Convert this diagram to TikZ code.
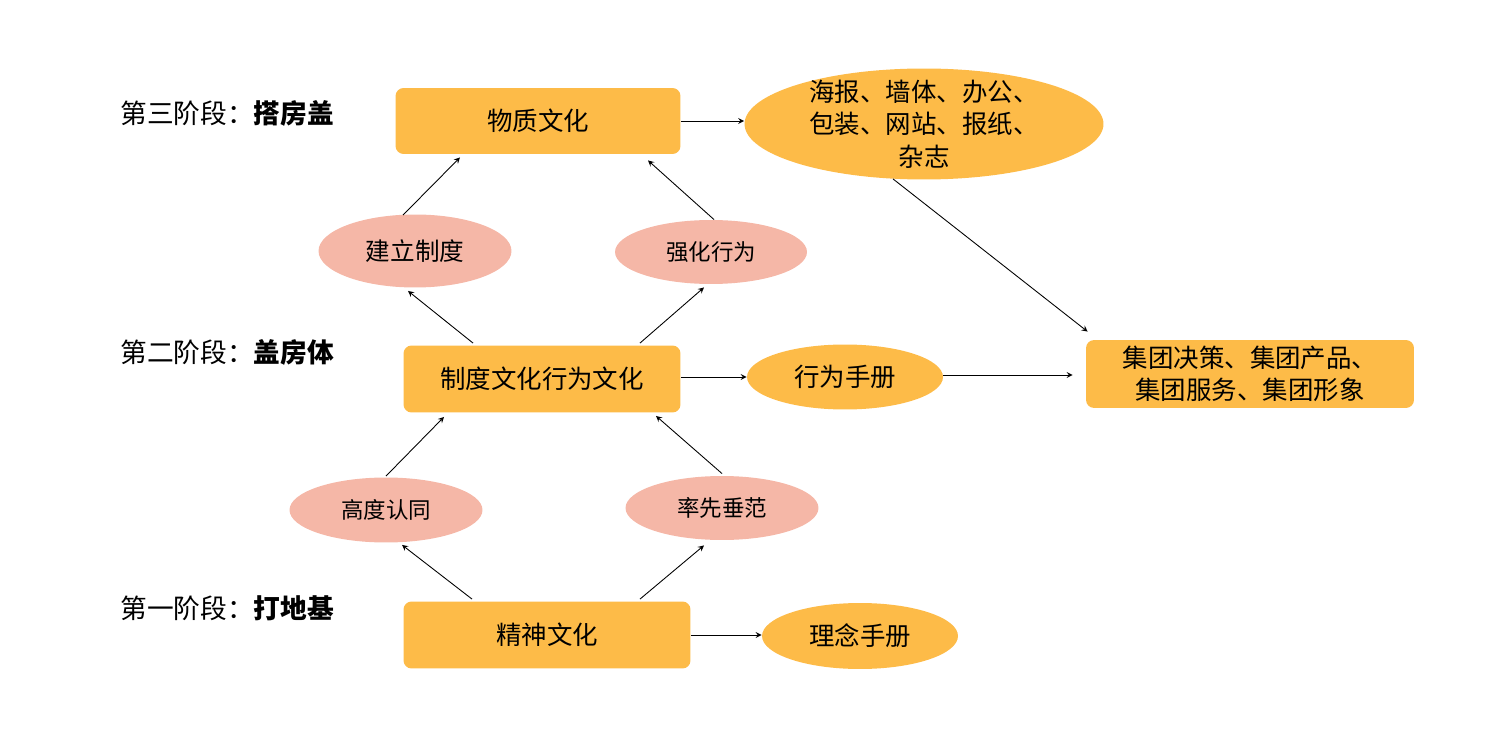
\documentclass[tikz,border=0pt]{standalone}
\usepackage{fontspec}
\setmainfont{Noto Sans CJK SC}
\usetikzlibrary{shapes.geometric}
\definecolor{boxorange}{RGB}{253,187,72}
\definecolor{ovalpink}{RGB}{245,183,167}
\begin{document}
\begin{tikzpicture}[x=0.02cm, y=-0.02cm, >=stealth, line width=0.5pt,
  culture/.style={draw=none, fill=boxorange, rounded corners=0.16cm, minimum height=1.34cm, font=\fontsize{14.5pt}{18.5pt}\selectfont, align=center},
  medium/.style={ellipse, fill=boxorange, inner sep=0pt, minimum height=1.3cm, minimum width=3.92cm, font=\fontsize{14.5pt}{18.5pt}\selectfont, align=center},
  action/.style={ellipse, fill=ovalpink, inner sep=0pt, minimum height=1.3cm, minimum width=3.86cm, font=\fontsize{12.8pt}{16pt}\selectfont},
  stage/.style={anchor=west, inner sep=0pt, font=\fontsize{15.2pt}{18pt}\selectfont}]
\useasboundingbox (0,0) rectangle (1500,729);
%
\node[stage] (stage3) at (120,113) {第三阶段：\textbf{搭房盖}};
\node[stage] (stage2) at (120,352) {第二阶段：\textbf{盖房体}};
\node[stage] (stage1) at (120,608) {第一阶段：\textbf{打地基}};
%
\node[culture, minimum width=5.7cm, minimum height=1.32cm] (wuzhi) at (538,121) {物质文化};
\node[culture, minimum width=5.54cm] (zhidu) at (542,379) {制度文化行为文化};
\node[culture, minimum width=5.74cm] (jingshen) at (547,635) {精神文化};
\node[culture, minimum width=6.56cm] (jituan) at (1250,374) {集团决策、集团产品、\\集团服务、集团形象};
%
\node[medium, inner ysep=-0.15cm, minimum width=7.18cm, minimum height=2.22cm] (haibao) at (924,124) {海报、墙体、办公、\\包装、网站、报纸、\\杂志};
\node[medium] (xingwei) at (845,377) {行为手册};
\node[medium, minimum height=1.32cm] (linian) at (860,636) {理念手册};
%
\node[action, minimum height=1.46cm, font=\fontsize{14pt}{16pt}\selectfont] (jianli) at (415,251) {建立制度};
\node[action, minimum width=3.84cm, minimum height=1.28cm] (qianghua) at (711,252) {强化行为};
\node[action] (gaodu) at (386,510) {高度认同};
\node[action, minimum height=1.28cm] (shuaixian) at (722,508) {率先垂范};
%
\draw[->] ([shift={(-12,1)}]jianli.north) -- ([shift={(-78,3)}]wuzhi.south);
\draw[->] ([shift={(3,0)}]qianghua.north) -- ([shift={(110,6)}]wuzhi.south);
\draw[->] ([shift={(-69,-2)}]zhidu.north) -- ([shift={(-7,3)}]jianli.south);
\draw[->] ([shift={(98,-2)}]zhidu.north) -- ([shift={(-7,3)}]qianghua.south);
%
\draw[->] ([shift={(0,-1)}]gaodu.north) -- ([shift={(-98,4)}]zhidu.south);
\draw[->] ([shift={(0,-2)}]shuaixian.north) -- ([shift={(114,3)}]zhidu.south);
\draw[->] ([shift={(-75,-2)}]jingshen.north) -- ([shift={(16,2)}]gaodu.south);
\draw[->] ([shift={(93,-2)}]jingshen.north) -- ([shift={(-18,5)}]shuaixian.south);
%
\draw[->] (wuzhi.east) -- (wuzhi.east -| haibao.west);
\draw[->] ([yshift=0.04cm]zhidu.east) -- ([yshift=0.04cm]zhidu.east -| xingwei.west);
\draw[->] (jingshen.east) -- (jingshen.east -| linian.west);
\draw[->, shorten >=0.26cm] ([yshift=0.04cm]xingwei.east) -- ([yshift=0.04cm]xingwei.east -| jituan.west);
\draw[->] ([shift={(-31,-1)}]haibao.south) -- ([shift={(2,-8)}]jituan.north west);
%
\end{tikzpicture}
\end{document}
